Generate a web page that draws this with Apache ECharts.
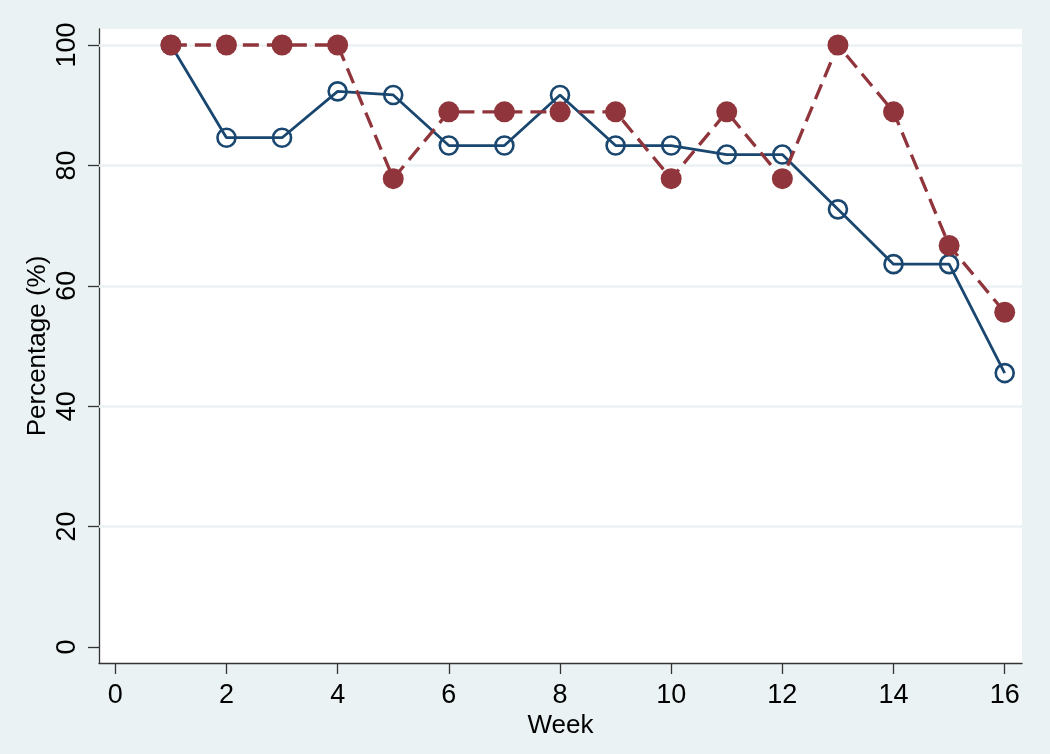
<!DOCTYPE html>
<html>
<head>
<meta charset="utf-8">
<script src="https://cdn.jsdelivr.net/npm/echarts@6/dist/echarts.min.js"></script>
<style>html,body{margin:0;padding:0;background:#EAF2F3;}#c{width:1050px;height:754px;}</style>
</head>
<body>
<div id="c"></div>
<script>
const weeks = [1,2,3,4,5,6,7,8,9,10,11,12,13,14,15,16];
const seriesBlue = [100,84.6,84.6,92.3,91.7,83.3,83.3,91.7,83.3,83.3,81.8,81.8,72.7,63.6,63.6,45.5];
const seriesRed = [100,100,100,100,77.8,88.9,88.9,88.9,88.9,77.8,88.9,77.8,100,88.9,66.7,55.6];
const xTicks = [0,2,4,6,8,10,12,14,16];
const yTicks = [0,20,40,60,80,100];
const yGridlines = [20,40,60,80,100];
const xTitle = 'Week';
const yTitle = 'Percentage (%)';

const font = "'Liberation Sans', Arial, sans-serif";
const chart = echarts.init(document.getElementById('c'), null, {renderer:'canvas'});
chart.setOption({
  backgroundColor: '#EAF2F3',
  animation: false,
  grid: {left: 99, right: 28, top: 29, bottom: 91, show: true, backgroundColor: '#ffffff', borderWidth: 0},
  xAxis: {
    type: 'value', min: -0.293, max: 16.311,
    name: xTitle, nameLocation: 'middle', nameGap: 50, nameMoveOverlap: false,
    nameTextStyle: {fontFamily: font, fontSize: 26, color: '#000'},
    axisLine: {show: true, onZero: false, lineStyle: {color: '#333', width: 1.3}},
    axisTick: {show: true, length: 11, customValues: xTicks, lineStyle: {color: '#333', width: 1.3}},
    axisLabel: {customValues: xTicks, margin: 19, fontFamily: font, fontSize: 27, color: '#000'},
    splitLine: {show: false}
  },
  yAxis: {
    type: 'value', min: -2.66, max: 102.66,
    name: yTitle, nameLocation: 'middle', nameGap: 48, nameMoveOverlap: false,
    nameTextStyle: {fontFamily: font, fontSize: 26, color: '#000'},
    axisLine: {show: true, onZero: false, lineStyle: {color: '#333', width: 1.3}},
    axisTick: {show: true, length: 11, customValues: yTicks, lineStyle: {color: '#333', width: 1.3}},
    axisLabel: {customValues: yTicks, rotate: 90, margin: 18, fontFamily: font, fontSize: 27, color: '#000'},
    splitLine: {show: false}
  },
  series: [
    {
      type: 'line', data: [], silent: true,
      markLine: {
        silent: true, symbol: ['none','none'], z: 1,
        label: {show: false},
        lineStyle: {color: '#EAF2F3', width: 2.5, type: 'solid'},
        emphasis: {disabled: true},
        data: yGridlines.map(v => ({yAxis: v}))
      }
    },
    {
      type: 'line', z: 3,
      data: weeks.map((w,i) => [w, seriesBlue[i]]),
      symbol: 'circle', symbolSize: 18,
      lineStyle: {color: '#1A476F', width: 2.8},
      itemStyle: {color: 'rgba(255,255,255,0)', borderColor: '#1A476F', borderWidth: 2.6}
    },
    {
      type: 'line', z: 4,
      data: weeks.map((w,i) => [w, seriesRed[i]]),
      symbol: 'circle', symbolSize: 21,
      lineStyle: {color: '#90353B', width: 3.3, type: [16, 8]},
      itemStyle: {color: '#90353B', borderWidth: 0}
    }
  ]
});
</script>
</body>
</html>
